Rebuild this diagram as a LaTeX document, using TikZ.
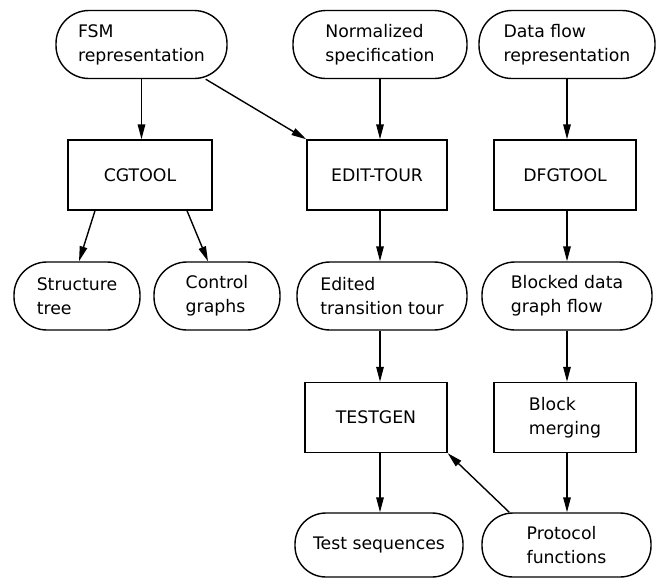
\documentclass[tikz,border=0pt]{standalone}
\usepackage{fontspec}
\setmainfont{DejaVu Sans}
\usetikzlibrary{arrows.meta,calc}
\begin{document}
\begin{tikzpicture}[x=1pt,y=-1pt,
  every node/.style={font=\fontsize{17.3}{24}\selectfont, inner sep=0pt, align=left},
  term/.style={draw, line width=1.4pt, rounded corners=33pt, minimum height=68pt},
  tool/.style={draw, line width=1.4pt, minimum width=142pt, minimum height=70pt},
  arr/.style={line width=1.4pt, -{Triangle[length=15pt,width=7.5pt]}}]
\useasboundingbox (0,0) rectangle (658,579);
% row 1
\node[term, minimum width=171pt] (fsm) at (141.5,44.5) {FSM\\representation};
\node[term, minimum width=174pt] (norm) at (380,44.5) {Normalized\\specification};
\node[term, minimum width=176pt] (dfr) at (567,44.5) {Data flow\\representation};
% row 2
\node[tool, minimum width=144pt] (cg) at (140,175) {CGTOOL};
\node[tool, minimum width=140pt] (edit) at (377,175) {EDIT-TOUR};
\node[tool] (dfg) at (565,175) {DFGTOOL};
% row 3
\node[term, minimum width=126pt] (st) at (77,296) {Structure\\tree};
\node[term, minimum width=126pt] (cgr) at (217,296) {Control\\graphs};
\node[term, minimum width=170pt] (ett) at (382,296) {Edited\\transition tour};
\node[term, minimum width=170pt] (bdg) at (567,296) {Blocked data\\graph flow};
% row 4
\node[tool] (tg) at (376,417.5) {TESTGEN};
\node[tool] (bm) at (565,417.5) {Block\\merging};
% row 5
\node[term, minimum width=168pt, minimum height=64pt, rounded corners=31pt] (ts) at (379,545) {Test sequences};
\node[term, minimum width=169pt, minimum height=64pt, rounded corners=31pt] (pf) at (566.5,545) {Protocol\\functions};
% arrows
\draw[arr] (fsm.south) -- (fsm.south |- cg.north);
\draw[arr] ([xshift=-22pt]fsm.south east) -- (edit.north west);
\draw[arr] (norm.south) -- (norm.south |- edit.north);
\draw[arr] (dfr.south) -- (dfr.south |- dfg.north);
\draw[arr] ([xshift=-45pt]cg.south) -- ([xshift=2pt]st.north);
\draw[arr] ([xshift=47pt]cg.south) -- ([xshift=-9pt]cgr.north);
\draw[arr] (norm.south |- edit.south) -- (norm.south |- ett.north);
\draw[arr] (dfr.south |- dfg.south) -- (dfr.south |- bdg.north);
\draw[arr] (norm.south |- ett.south) -- (norm.south |- tg.north);
\draw[arr] (dfr.south |- bdg.south) -- (dfr.south |- bm.north);
\draw[arr] (norm.south |- tg.south) -- (norm.south |- ts.north);
\draw[arr] (dfr.south |- bm.south) -- (dfr.south |- pf.north);
\draw[arr] ([xshift=28pt]pf.north west) -- (tg.south east);
\end{tikzpicture}
\end{document}
